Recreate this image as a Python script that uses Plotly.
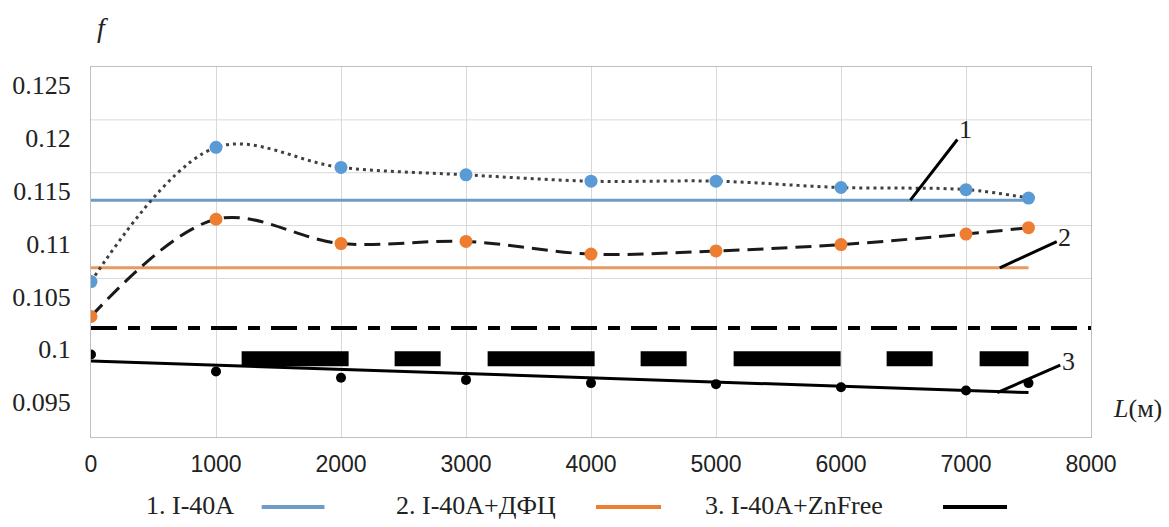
import plotly.graph_objects as go

# ---------------- data ----------------
distance = [0, 1000, 2000, 3000, 4000, 5000, 6000, 7000, 7500]
f_i40a = [0.1047, 0.1174, 0.1155, 0.1148, 0.1142, 0.1142, 0.1136, 0.1134, 0.1126]
f_i40a_dfc = [0.1014, 0.1106, 0.1083, 0.1085, 0.1073, 0.1076, 0.1082, 0.1092, 0.1098]
f_i40a_znfree = [0.0978, 0.0962, 0.0956, 0.0954, 0.0951, 0.0950, 0.0947, 0.0944, 0.0951]

mean_x = [0, 7500]
mean_i40a = [0.1124, 0.1124]
mean_i40a_dfc = [0.1060, 0.1060]
trend_znfree = [0.0972, 0.0942]

dashdot_x = [0, 8000]
dashdot_y = [0.1003, 0.1003]
bar_x = [1205, 7500]
bar_y = [0.0974, 0.0974]

y_ticks = [0.095, 0.1, 0.105, 0.11, 0.115, 0.12, 0.125]
y_ticktext = ["0.095", "0.1", "0.105", "0.11", "0.115", "0.12", "0.125"]
x_ticks = [0, 1000, 2000, 3000, 4000, 5000, 6000, 7000, 8000]
grid_y = [0.105, 0.11, 0.115, 0.12]

legend_labels = ["1. I-40A", "2. I-40A+ДФЦ", "3. I-40A+ZnFree"]
legend_colors = ["#6f9cc6", "#ed7d31", "#000000"]

BLUE = "#5b9bd5"
ORANGE = "#ed7d31"
SERIF = "Liberation Serif, Times New Roman, serif"
SANS = "Liberation Sans Narrow, Liberation Sans, Arial, sans-serif"

fig = go.Figure()

# mean lines
fig.add_trace(go.Scatter(x=mean_x, y=mean_i40a, mode="lines",
                         line=dict(color="#6f9cc6", width=3), showlegend=False,
                         name="1. I-40A (mean)"))
fig.add_trace(go.Scatter(x=mean_x, y=mean_i40a_dfc, mode="lines",
                         line=dict(color="#e69a62", width=3), showlegend=False,
                         name="2. I-40A+ДФЦ (mean)"))
# dash-dot and thick dashed decorative lines
fig.add_trace(go.Scatter(x=dashdot_x, y=dashdot_y, mode="lines",
                         line=dict(color="black", width=4, dash="26px,11px,12px,11px"),
                         showlegend=False, name="dash-dot"))
fig.add_trace(go.Scatter(x=bar_x, y=bar_y, mode="lines",
                         line=dict(color="black", width=15, dash="107px,46px,46px,47px"),
                         showlegend=False, name="bar"))
# trend line for series 3
fig.add_trace(go.Scatter(x=mean_x, y=trend_znfree, mode="lines",
                         line=dict(color="black", width=3), showlegend=False,
                         name="3. I-40A+ZnFree (trend)"))

# smoothed curves with markers
fig.add_trace(go.Scatter(x=distance, y=f_i40a, mode="lines+markers", name="1. I-40A",
                         line=dict(color="#404040", width=3, dash="3px,4px", shape="spline"),
                         marker=dict(color=BLUE, size=13), showlegend=False))
fig.add_trace(go.Scatter(x=distance, y=f_i40a_dfc, mode="lines+markers", name="2. I-40A+ДФЦ",
                         line=dict(color="#1a1a1a", width=3, dash="16px,8px", shape="spline"),
                         marker=dict(color=ORANGE, size=13), showlegend=False))
fig.add_trace(go.Scatter(x=distance, y=f_i40a_znfree, mode="markers", name="3. I-40A+ZnFree",
                         marker=dict(color="black", size=10), showlegend=False))

# horizontal gridlines (only upper part as in the reference)
for gy in grid_y:
    fig.add_shape(type="line", xref="paper", yref="y", x0=0, x1=1, y0=gy, y1=gy,
                  line=dict(color="#d9d9d9", width=1), layer="below")

# leader lines with labels
leaders = [("1", 6555, 0.1124, 55, -71), ("2", 7270, 0.1060, 65, -30), ("3", 7250, 0.0942, 71, -31)]
for txt, lx, ly, dx, dy in leaders:
    fig.add_annotation(x=lx, y=ly, ax=dx, ay=dy, text=txt, showarrow=True,
                       arrowhead=0, arrowwidth=3, arrowcolor="black", standoff=0,
                       font=dict(family=SERIF, size=26, color="#222"))

# axis titles
fig.add_annotation(xref="paper", yref="paper", x=0.011, y=1.108, text="<i>f</i>",
                   xanchor="center", yanchor="middle",
                   showarrow=False, font=dict(family=SERIF, size=28, color="#222"))
fig.add_annotation(xref="paper", yref="paper", x=1.046, y=0.078, text="<i>L</i>(м)",
                   xanchor="center", yanchor="middle",
                   showarrow=False, font=dict(family=SERIF, size=26, color="#222"))

# manual legend (text before line key)
legend_text_x = [0.0529, 0.3034, 0.6118]
legend_key_x = [(0.1707, 0.2335), (0.505, 0.570), (0.852, 0.916)]
for lab, col, tx, (k0, k1) in zip(legend_labels, legend_colors, legend_text_x, legend_key_x):
    fig.add_annotation(xref="paper", yref="paper", x=tx, y=-0.184, xanchor="left",
                       yanchor="middle", text=lab, showarrow=False,
                       font=dict(family=SERIF, size=26, color="#222"))
    fig.add_shape(type="line", xref="paper", yref="paper", x0=k0, x1=k1,
                  y0=-0.189, y1=-0.189, line=dict(color=col, width=4))

fig.update_xaxes(range=[0, 8000], tickvals=x_ticks, showgrid=True, gridcolor="#d9d9d9",
                 gridwidth=1, showline=True, linecolor="#bfbfbf", mirror=True, zeroline=False,
                 tickfont=dict(family=SANS, size=23, color="#222"), ticks="", ticklabelstandoff=6)
fig.update_yaxes(range=[0.09, 0.125], tickvals=y_ticks, ticktext=y_ticktext, showgrid=False,
                 showline=True, linecolor="#bfbfbf", mirror=True, zeroline=False,
                 tickfont=dict(family=SERIF, size=26, color="#222"), ticks="",
                 ticklabelshift=18, ticklabelstandoff=14)

fig.update_layout(width=1169, height=527, margin=dict(l=89, r=78, t=67, b=90),
                  plot_bgcolor="white", paper_bgcolor="white", showlegend=False)

fig.write_html("out.html")
